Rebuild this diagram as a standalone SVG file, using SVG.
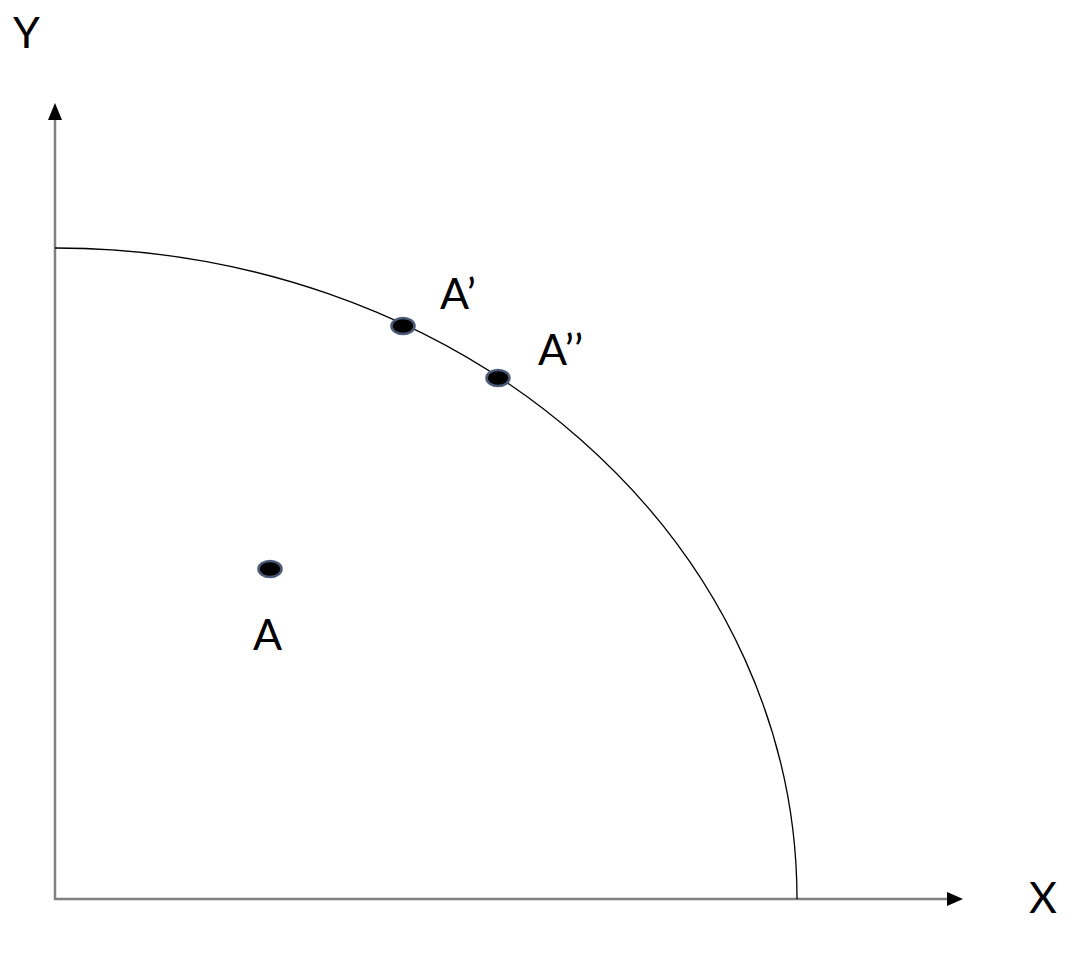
<svg xmlns="http://www.w3.org/2000/svg" width="1086" height="960" viewBox="0 0 1086 960">
<style>
.axis{stroke:#808080;stroke-width:2.5;fill:none}
.curve{stroke:#000;stroke-width:1.3;fill:none}
.dot{fill:#000;stroke:#4a5a78;stroke-width:2.5}
.lbl{font-family:Lato,"Open Sans","Liberation Sans",sans-serif;font-size:43px;fill:#000}
</style>
<rect width="1086" height="960" fill="#fff"/>
<g id="connectors">
<path class="axis" d="M55,900 L55,120"/>
<path d="M55,103 L62,120 L48,120 z" fill="#000"/>
<path class="axis" d="M54,899 L947,899"/>
<path d="M963,899 L947,892 L947,906 z" fill="#000"/>
<path class="curve" d="M55,248 A742,651 0 0 1 797,899"/>
</g>
<g id="labelY"><text class="lbl" x="13" y="48">Y</text></g>
<g id="labelX"><text class="lbl" x="1029" y="913">X</text></g>
<g id="pointA"><ellipse class="dot" cx="270" cy="569" rx="11.5" ry="8"/><text class="lbl" x="253" y="650">A</text></g>
<g id="pointA1"><ellipse class="dot" cx="403" cy="326" rx="11.5" ry="8"/><text class="lbl" x="440" y="309">A’</text></g>
<g id="pointA2"><ellipse class="dot" cx="498" cy="378" rx="11.5" ry="8"/><text class="lbl" x="538" y="365">A’’</text></g>
</svg>
